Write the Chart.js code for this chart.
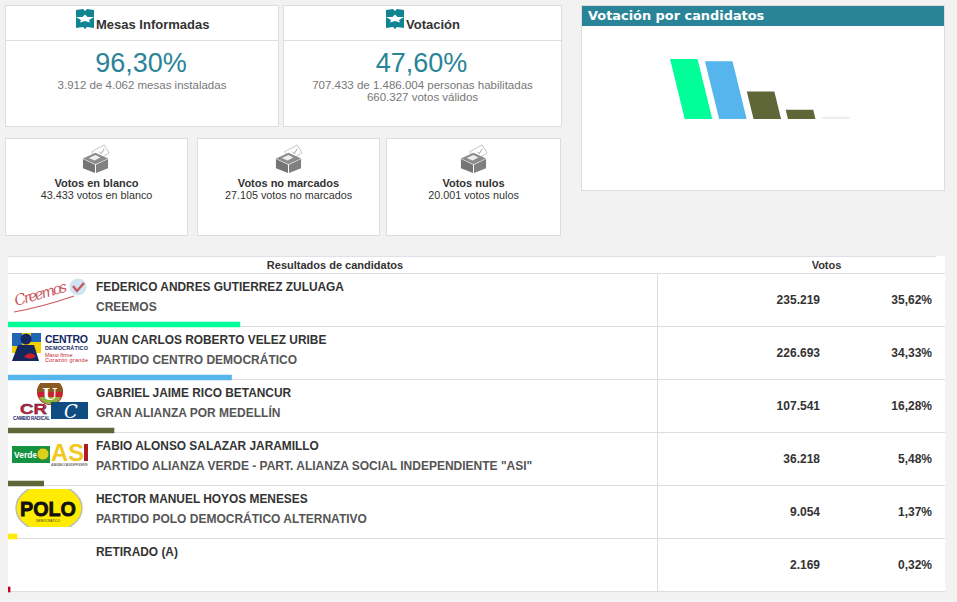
<!DOCTYPE html>
<html><head><meta charset="utf-8">
<script src="https://cdn.jsdelivr.net/npm/chart.js@4"></script>
<style>
html,body{margin:0;padding:0;width:957px;height:602px;overflow:hidden;background:#f2f2f2;font-family:"Liberation Sans",Arial,sans-serif}
.box{position:absolute;background:#fff;border:1px solid #ddd;box-sizing:border-box}
.t{position:absolute;white-space:nowrap;line-height:1}
.c{text-align:center}
.big{font-size:27px;color:#2a8497}
.sub{font-size:11.5px;color:#777}
.h{font-size:13px;font-weight:bold;color:#333}
.lt{font-size:11px;font-weight:bold;color:#333}
.ls{font-size:10.8px;color:#333}
.ln{position:absolute;background:#ddd}
svg{position:absolute;overflow:hidden}
canvas{position:absolute}
</style></head><body>

<svg width="0" height="0" style="position:absolute">
<defs>
<symbol id="flag" viewBox="0 0 18 20"><path d="M0 1 L7 0 L9 2 L11 0 L18 1 V19 L11 18 L9 20 L7 18 L0 19Z" fill="#0f8492"/><path d="M0 8 H6.5 L9 5.5 L11.5 8 H18 L13 11 L14 13.5 L9 12 L4 13.5 L5 11Z" fill="#fff"/></symbol>
<symbol id="ballot" viewBox="0 0 30 30"><path d="M11 8 L24 1 L29 9 L17 17Z" fill="#fff" stroke="#aaa" stroke-width=".7"/><path d="M19 8 l2 2 l3-5" fill="none" stroke="#888" stroke-width=".8"/><path d="M2 15 L15 9 L28 15 L15 21Z" fill="#8c8c8c"/><path d="M8 14.5 L15 11.5 L20 14 L14 17Z" fill="#eee"/><path d="M2 15.5 L14.5 21.5 V30 L2 25Z" fill="#757575"/><path d="M28 15.5 L15.5 21.5 V30 L28 25Z" fill="#808080"/></symbol>
</defs></svg>

<div class="box" style="left:5px;top:5px;width:274px;height:122px"></div>
<div class="ln" style="left:6px;top:40px;width:272px;height:1px"></div>
<svg style="left:76px;top:9px" width="18" height="20"><use href="#flag"/></svg>
<div class="t h" style="left:96px;top:18px">Mesas Informadas</div>
<div class="t big c" style="left:4px;width:274px;top:50px">96,30%</div>
<div class="t sub c" style="left:5px;width:274px;top:80px">3.912 de 4.062 mesas instaladas</div>

<div class="box" style="left:283px;top:5px;width:279px;height:122px"></div>
<div class="ln" style="left:284px;top:40px;width:277px;height:1px"></div>
<svg style="left:386px;top:9px" width="18" height="20"><use href="#flag"/></svg>
<div class="t h" style="left:406px;top:18px">Votación</div>
<div class="t big c" style="left:282px;width:279px;top:50px">47,60%</div>
<div class="t sub c" style="left:283px;width:279px;top:80px">707.433 de 1.486.004 personas habilitadas</div>
<div class="t sub c" style="left:283px;width:279px;top:92px">660.327 votos válidos</div>

<div class="box" style="left:5px;top:138px;width:183px;height:98px"></div>
<svg style="left:81px;top:144px" width="29" height="29"><use href="#ballot"/></svg>
<div class="t lt c" style="left:5px;width:183px;top:178px">Votos en blanco</div>
<div class="t ls c" style="left:5px;width:183px;top:190px">43.433 votos en blanco</div>

<div class="box" style="left:197px;top:138px;width:183px;height:98px"></div>
<svg style="left:274px;top:144px" width="29" height="29"><use href="#ballot"/></svg>
<div class="t lt c" style="left:197px;width:183px;top:178px">Votos no marcados</div>
<div class="t ls c" style="left:197px;width:183px;top:190px">27.105 votos no marcados</div>

<div class="box" style="left:386px;top:138px;width:175px;height:98px"></div>
<svg style="left:459px;top:144px" width="29" height="29"><use href="#ballot"/></svg>
<div class="t lt c" style="left:386px;width:175px;top:178px">Votos nulos</div>
<div class="t ls c" style="left:386px;width:175px;top:190px">20.001 votos nulos</div>

<div class="box" style="left:581px;top:5px;width:364px;height:186px"></div>
<div style="position:absolute;left:582px;top:6px;width:362px;height:20px;background:#2a8497"></div>
<div class="t" style="left:588px;top:8px;font:bold 12.9px 'DejaVu Sans',sans-serif;color:#fff">Votación por candidatos</div>
<canvas id="barChart" width="362" height="164" style="left:582px;top:26px"></canvas>

<div style="position:absolute;left:8px;top:256px;width:937px;height:336px;background:#fff"></div>
<div id="rows"></div>
<canvas id="progressChart" width="651" height="318" style="left:8px;top:298px;z-index:3"></canvas>

<script>
const candidates=["FEDERICO ANDRES GUTIERREZ ZULUAGA","JUAN CARLOS ROBERTO VELEZ URIBE","GABRIEL JAIME RICO BETANCUR","FABIO ALONSO SALAZAR JARAMILLO","HECTOR MANUEL HOYOS MENESES","RETIRADO (A)"];
const parties=["CREEMOS","PARTIDO CENTRO DEMOCRÁTICO","GRAN ALIANZA POR MEDELLÍN","PARTIDO ALIANZA VERDE - PART. ALIANZA SOCIAL INDEPENDIENTE \"ASI\"","PARTIDO POLO DEMOCRÁTICO ALTERNATIVO",""];
const votes=[235219,226693,107541,36218,9054,2169];
const voteLabels=["235.219","226.693","107.541","36.218","9.054","2.169"];
const percents=[35.62,34.33,16.28,5.48,1.37,0.32];
const percentLabels=["35,62%","34,33%","16,28%","5,48%","1,37%","0,32%"];
const chartBarColors=["#00ff99","#55b5ec","#5f6637","#5f6637","#eeeeee"];
const rowBarColors=["#00ff99","#55b5ec","#5f6637","#5f6637","#ffec00","#c00020"];

const logos=[
`<circle cx="70" cy="10" r="8.5" fill="#cfe6f2"/><path d="M65 9 l4 5 l7-8" fill="none" stroke="#c9595f" stroke-width="2.4"/><text x="8" y="29" font-family="DejaVu Serif,serif" font-style="italic" font-size="15" fill="#c9595f" textLength="54" transform="rotate(-16 8 29)">Creemos</text><path d="M6 35 Q34 30 66 19" fill="none" stroke="#c9595f" stroke-width="1.1"/>`,
`<rect x="4" y="3" width="29" height="20" fill="#f5d000"/><rect x="4" y="3" width="10" height="13" fill="#1f66b5"/><rect x="23" y="3" width="10" height="9" fill="#1f66b5"/><circle cx="18" cy="9" r="5.5" fill="#14275f"/><path d="M4 31 L10 15 H26 L31 31Z" fill="#14275f"/><path d="M16 27 q6-7 12-1 q-4 5-12 1" fill="#c8202e"/><text x="37" y="13" font-weight="bold" font-size="10.5" fill="#14275f" textLength="43">CENTRO</text><text x="37" y="20" font-weight="bold" font-size="5.5" fill="#14275f" textLength="43">DEMOCRÁTICO</text><text x="37" y="27" font-size="5.5" fill="#c8202e">Mano firme</text><text x="37" y="32" font-size="5.5" fill="#c8202e" textLength="43">Corazón grande</text>`,
`<circle cx="42" cy="9" r="13" fill="#c8202e"/><path d="M29 9 a13 13 0 0 1 26 0Z" fill="#8a5a20"/><path d="M31 14 a12 12 0 0 0 22 0Z" fill="#8fb33b"/><text x="42" y="17" text-anchor="middle" font-weight="bold" font-family="DejaVu Serif,serif" font-size="17" fill="#fff">U</text><text x="12" y="31" font-weight="bold" font-size="15" fill="#d0202a" textLength="27" lengthAdjust="spacingAndGlyphs" stroke="#14275f" stroke-width=".4">CR</text><rect x="43" y="19" width="37" height="17" fill="#0f4c81"/><text x="56" y="35" font-family="DejaVu Serif,serif" font-style="italic" font-size="18" fill="#fff">C</text><text x="5" y="37" font-weight="bold" font-size="4.5" fill="#14275f" textLength="37">CAMBIO RADICAL</text>`,
`<rect x="4" y="10" width="38" height="17" fill="#15923f"/><text x="6" y="22" font-weight="bold" font-size="8.5" fill="#fff">Verde</text><circle cx="35" cy="18" r="6" fill="#d8d21e" stroke="#5a7f2a"/><text x="43" y="25" font-weight="bold" font-size="23" fill="#f2c81e" textLength="33" lengthAdjust="spacingAndGlyphs">AS</text><rect x="76" y="8" width="4" height="17" fill="#b01c24"/><text x="43" y="30" font-size="3.2" fill="#555" textLength="37">ALIANZA SOCIAL INDEPENDIENTE</text>`,
`<ellipse cx="41" cy="19" rx="33" ry="24" fill="#ffec00" stroke="#bbb" stroke-width="1.5"/><text x="40" y="27" text-anchor="middle" font-weight="bold" font-size="21" fill="#111" textLength="56" lengthAdjust="spacingAndGlyphs" stroke="#111" stroke-width=".8">POLO</text><text x="40" y="33" text-anchor="middle" font-size="3.2" fill="#333">DEMOCRÁTICO</text>`,
``
];

const rows=document.getElementById('rows');
const rowH=53, firstLine=273;
let html='';
html+=`<div class="ln" style="left:8px;top:256px;width:928px;height:1px;background:#e0e0e8"></div>`;
html+=`<div class="ln" style="left:8px;top:${firstLine}px;width:937px;height:1px"></div>`;
html+=`<div class="t lt c" style="left:8px;width:654px;top:260px">Resultados de candidatos</div>`;
html+=`<div class="t lt c" style="left:797px;width:59px;top:260px">Votos</div>`;
candidates.forEach((n,i)=>{
  const y=firstLine+rowH*i;
  html+=`<div class="ln" style="left:8px;top:${y+rowH}px;width:937px;height:1px"></div>`;
  html+=`<div class="ln" style="left:657px;top:${y+1}px;width:1px;height:${rowH-1}px"></div>`;
  html+=`<svg style="left:8px;top:${y+4}px;font-family:'Liberation Sans',sans-serif" width="84" height="38">${logos[i]}</svg>`;
  html+=`<div class="t" style="left:96px;top:${y+9}px;font-size:11.9px;font-weight:bold;color:#333">${n}</div>`;
  if(parties[i]) html+=`<div class="t" style="left:96px;top:${y+28}px;font-size:12px;font-weight:bold;color:#555">${parties[i]}</div>`;
  html+=`<div class="t" style="right:137px;top:${y+21}px;font-size:12px;font-weight:bold;color:#333">${voteLabels[i]}</div>`;
  html+=`<div class="t" style="right:25px;top:${y+21}px;font-size:12px;font-weight:bold;color:#333">${percentLabels[i]}</div>`;
});
rows.innerHTML=html;

const shear={id:'shear',
  beforeDatasetsDraw(c){const y0=c.scales.y.getPixelForValue(0);c.ctx.save();c.ctx.transform(1,0,0.245,1,-0.245*y0,0);},
  afterDatasetsDraw(c){c.ctx.restore();}};

new Chart(document.getElementById('barChart'),{
  type:'bar',
  plugins:[shear],
  data:{labels:candidates.slice(0,5),datasets:[{data:votes.slice(0,5),backgroundColor:chartBarColors,barPercentage:0.8,categoryPercentage:1,clip:false}]},
  options:{responsive:false,animation:false,devicePixelRatio:1,
    layout:{padding:{left:99.3,right:90.7,top:33,bottom:71}},
    plugins:{legend:{display:false},tooltip:{enabled:false}},
    scales:{x:{display:false},y:{display:false,min:0,max:235219}}}
});

new Chart(document.getElementById('progressChart'),{
  type:'bar',
  data:{labels:candidates,datasets:[{data:percents,backgroundColor:rowBarColors,barThickness:5}]},
  options:{indexAxis:'y',responsive:false,animation:false,devicePixelRatio:1,
    layout:{padding:0},
    plugins:{legend:{display:false},tooltip:{enabled:false}},
    scales:{x:{display:false,min:0,max:100},y:{display:false}}}
});
</script>
</body></html>
